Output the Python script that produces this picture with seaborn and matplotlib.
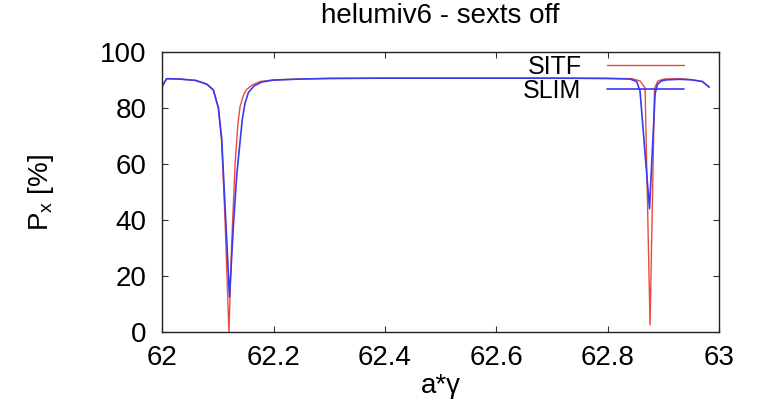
import matplotlib

matplotlib.use("Agg")

import matplotlib.pyplot as plt
import pandas as pd
import seaborn as sns


TITLE = "helumiv6 - sexts off"
X_LABEL = "a*γ"
Y_LABEL = r"$\mathregular{P_x}$ [%]"
X_TICKS = [62.0, 62.2, 62.4, 62.6, 62.8, 63.0]
X_TICK_LABELS = ["62", "62.2", "62.4", "62.6", "62.8", "63"]
Y_TICKS = [0, 20, 40, 60, 80, 100]

# SITF curve
x_sitf = [62.000, 62.008, 62.030, 62.060, 62.080, 62.092, 62.101, 62.107, 62.113,
          62.120, 62.125, 62.131, 62.136, 62.140, 62.147, 62.152, 62.162, 62.176,
          62.200, 62.250, 62.300, 62.400, 62.500, 62.600, 62.700, 62.800, 62.844,
          62.858, 62.867, 62.876, 62.884, 62.890, 62.901, 62.930, 62.950, 62.970,
          62.982]
p_sitf = [87.6, 90.4, 90.3, 89.8, 88.5, 86.4, 80.0, 68.0, 40.0,
          0.0, 32.0, 60.0, 74.0, 80.5, 85.0, 86.6, 88.2, 89.4,
          90.0, 90.3, 90.5, 90.6, 90.6, 90.6, 90.6, 90.5, 90.4,
          89.6, 87.1, 2.5, 87.0, 89.6, 90.3, 90.4, 90.1, 89.4,
          87.4]

# SLIM curve
x_slim = [62.000, 62.008, 62.030, 62.060, 62.080, 62.092, 62.101, 62.107, 62.113,
          62.121, 62.128, 62.134, 62.138, 62.144, 62.149, 62.155, 62.165, 62.178,
          62.200, 62.250, 62.300, 62.400, 62.500, 62.600, 62.700, 62.800, 62.840,
          62.852, 62.858, 62.875, 62.885, 62.889, 62.896, 62.905, 62.930, 62.950,
          62.970, 62.982]
p_slim = [87.6, 90.4, 90.3, 89.8, 88.5, 86.4, 80.0, 69.0, 45.0,
          12.6, 38.0, 56.0, 64.0, 76.0, 81.8, 85.5, 87.8, 89.2,
          89.9, 90.3, 90.5, 90.6, 90.6, 90.6, 90.6, 90.5, 90.3,
          89.4, 86.0, 44.0, 85.0, 88.3, 89.6, 90.0, 90.2, 90.0,
          89.4, 87.4]

RED = "#ee4a3c"
BLUE = "#3a3aee"


def main():
    sns.set_style("ticks")
    plt.rcParams["font.family"] = ["Liberation Sans", "DejaVu Sans"]
    plt.rcParams["mathtext.fontset"] = "custom"
    plt.rcParams["mathtext.rm"] = "Liberation Sans"
    plt.rcParams["text.color"] = "black"
    plt.rcParams["axes.labelcolor"] = "black"
    plt.rcParams["xtick.labelcolor"] = "black"
    plt.rcParams["ytick.labelcolor"] = "black"

    sitf = pd.DataFrame({"x": x_sitf, "p": p_sitf})
    slim = pd.DataFrame({"x": x_slim, "p": p_slim})

    fig = plt.figure(figsize=(7.61, 4.08), dpi=100)
    ax = fig.add_axes([0.213, 0.186, 0.732, 0.687])

    sns.lineplot(data=sitf, x="x", y="p", color=RED, linewidth=1.0, label="SITF", ax=ax)
    sns.lineplot(data=slim, x="x", y="p", color=BLUE, linewidth=1.2, label="SLIM", ax=ax)

    ax.set_xlim(62, 63)
    ax.set_ylim(0, 100)
    ax.set_xticks(X_TICKS)
    ax.set_xticklabels(X_TICK_LABELS)
    ax.set_yticks(Y_TICKS)
    ax.tick_params(axis="both", direction="in", length=4.5, width=0.8,
                   top=True, right=True, labelsize=20, color="#333333")
    ax.tick_params(axis="x", pad=9)
    ax.tick_params(axis="y", pad=11)
    for spine in ax.spines.values():
        spine.set_visible(True)
        spine.set_linewidth(1.0)
        spine.set_color("#222222")

    ax.set_title(TITLE, fontsize=20, pad=21)
    ax.set_xlabel(X_LABEL, fontsize=20, labelpad=2)
    ax.set_ylabel(Y_LABEL, fontsize=20, labelpad=32)

    ax.legend(
        markerfirst=False,
        frameon=False,
        fontsize=18,
        handlelength=3.1,
        handletextpad=1.0,
        labelspacing=0.0,
        borderpad=0,
        borderaxespad=0,
        loc="center right",
        bbox_to_anchor=(684 / 761, 1 - 79 / 408),
        bbox_transform=fig.transFigure,
    )

    fig.savefig("out.png", dpi=100)
    plt.close(fig)


if __name__ == "__main__":
    main()
